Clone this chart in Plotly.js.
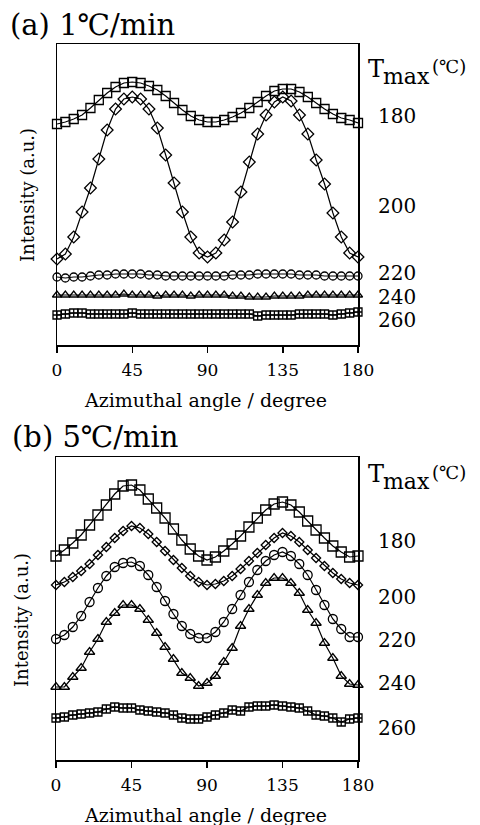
<!DOCTYPE html>
<html>
<head>
<meta charset="utf-8">
<script src="https://cdn.plot.ly/plotly-3.0.1.min.js"></script>
<style>
html,body{margin:0;padding:0;background:#fff;}
#chart{width:480px;height:825px;}
</style>
</head>
<body>
<div id="chart"></div>
<script>
// Azimuthal angle (degree), every 5 degrees
const angles = [0,5,10,15,20,25,30,35,40,45,50,55,60,65,70,75,80,85,90,95,100,105,110,115,120,125,130,135,140,145,150,155,160,165,170,175,180];
const xTickVals = [0,45,90,135,180];
const xTickText = ['0','45','90','135','180'];
const tmaxLabels = ['180','200','220','240','260'];

// (a) 1 ℃/min  — intensity (a.u.)
const a180 = [221,223,226,230,237,245,252,258,262,263,262,259,255,249,242,235,229,225,223,223,225,228,232,237,243,249,254,256,256,253,248,242,236,231,227,225,222];
const a200 = [86,91,108,133,157,186,215,236,246,248,246,236,217,190,162,133,108,92,88,92,105,123,153,183,211,230,243,248,244,230,211,185,161,132,108,92,88];
const a220 = [68,67,68,68,69,70,70,71,71,71,71,70,70,69,69,69,69,69,69,69,69,70,70,70,71,71,71,71,71,70,70,70,69,69,69,69,69];
const a240 = [50,50,50,50,50,50,50,50,51,50,50,50,49,50,50,50,49,50,50,50,50,49,49,48,48,48,49,49,49,49,50,50,50,50,50,50,50];
const a260 = [30,31,32,32,31,31,31,31,31,32,31,31,31,31,31,31,31,31,31,31,31,31,31,31,29,30,30,30,30,31,31,31,31,30,31,32,33];

// (b) 5 ℃/min — intensity (a.u.)
const b180 = [204,210,217,225,235,245,255,266,274,275,270,261,252,242,231,220,211,204,200,203,209,216,224,233,242,250,256,258,255,248,239,230,222,214,208,203,204];
const b200 = [175,178,183,189,196,205,213,222,229,234,232,226,218,209,200,192,184,178,175,176,179,184,191,199,207,215,222,227,224,218,210,202,194,187,181,177,175];
const b220 = [121,125,133,144,158,172,184,193,197,198,194,185,173,159,146,134,126,122,122,128,138,151,165,178,190,199,205,208,204,196,185,170,155,141,131,123,123];
const b240 = [73,73,83,92,108,121,138,147,155,155,151,140,127,113,101,87,82,74,77,84,98,112,134,151,165,177,182,182,177,167,150,137,117,102,84,76,75];
const b260 = [42,43,45,46,47,48,51,53,52,52,50,49,48,47,45,42,41,41,43,45,47,50,49,53,54,54,55,54,53,52,49,45,44,42,38,41,42];

const W = 480, H = 825;
const FONT = 'DejaVu Serif, Liberation Serif, serif';
const px = v => v / W;
const py = v => 1 - v / H;

const symbols = ['square-open','diamond-open','circle-open','triangle-up-open','square-cross-open'];
const sizesA = [9,9,8,8,8];
const sizesB = [10,7,9,9,8];

function mk(y, i, xa, ya, sizes) {
  return {
    x: angles, y: y, type: 'scatter', mode: 'lines+markers',
    xaxis: xa, yaxis: ya, cliponaxis: false, showlegend: false,
    line: {color: '#000', width: 1.2},
    marker: {symbol: symbols[i], size: sizes[i], color: '#000', line: {color: '#000', width: 1.3}},
    hoverinfo: 'skip'
  };
}

const data = [];
[a180,a200,a220,a240,a260].forEach((s,i)=>data.push(mk(s,i,'x','y',sizesA)));
[b180,b200,b220,b240,b260].forEach((s,i)=>data.push(mk(s,i,'x2','y2',sizesB)));

const xCommon = {
  range: [0,180], showgrid: false, zeroline: false,
  showline: true, linecolor: '#000', linewidth: 1.5, mirror: true,
  ticks: 'outside', ticklen: 6, tickwidth: 1.5, tickcolor: '#000',
  tickmode: 'array', tickvals: xTickVals, ticktext: xTickText,
  tickfont: {family: FONT, size: 17, color: '#000'}, ticklabelstandoff: 3
};
const yCommon = {
  showgrid: false, zeroline: false, showticklabels: false, ticks: '',
  showline: true, linecolor: '#000', linewidth: 1.5, mirror: true, fixedrange: true
};

// Tmax label positions (data units on each panel's axis)
const aLabelY = [229,139,72,48,25];
const bLabelY = [219,163,120,77,32];

const ann = [];
function txt(text, x, y, size, opts) {
  return Object.assign({text: text, x: x, y: y, xref: 'paper', yref: 'paper', showarrow: false,
    xanchor: 'left', yanchor: 'middle', font: {family: FONT, size: size, color: '#000'}}, opts||{});
}
ann.push(txt('(a) 1℃/min', px(8), py(25), 29));
ann.push(txt('(b) 5℃/min', px(10), py(437), 29));
function tmax(yc) {
  ann.push(txt('T', px(366), py(yc), 24));
  ann.push(txt('max', px(381), py(yc + 7), 22));
  ann.push(txt('(℃)', px(430), py(yc - 2), 18));
}
tmax(69);
tmax(474);
tmaxLabels.forEach((t,i)=>{
  ann.push(txt(t, px(376), aLabelY[i], 20, {yref: 'y'}));
  ann.push(txt(t, px(376), bLabelY[i], 20, {yref: 'y2'}));
});
ann.push(txt('Azimuthal angle / degree', px(205), py(400), 19, {xanchor: 'center'}));
ann.push(txt('Azimuthal angle / degree', px(205), py(815), 19, {xanchor: 'center'}));
ann.push(txt('Intensity (a.u.)', px(28), py(195), 18, {xanchor: 'center', textangle: -90}));
ann.push(txt('Intensity (a.u.)', px(21), py(620), 18, {xanchor: 'center', textangle: -90}));

const layout = {
  width: W, height: H,
  margin: {l: 0, r: 0, t: 0, b: 0},
  paper_bgcolor: '#fff', plot_bgcolor: '#fff',
  showlegend: false,
  xaxis: Object.assign({}, xCommon, {domain: [px(57), px(358)], anchor: 'y'}),
  yaxis: Object.assign({}, yCommon, {domain: [py(345), py(44)], range: [0,301], anchor: 'x'}),
  xaxis2: Object.assign({}, xCommon, {domain: [px(56), px(358)], anchor: 'y2'}),
  yaxis2: Object.assign({}, yCommon, {domain: [py(760), py(457)], range: [0,303], anchor: 'x2'}),
  annotations: ann
};

Plotly.newPlot('chart', data, layout, {staticPlot: true, displayModeBar: false});
</script>
</body>
</html>
